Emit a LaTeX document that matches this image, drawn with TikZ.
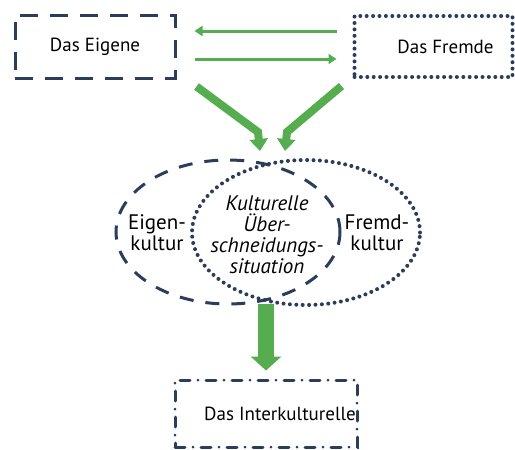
\documentclass[tikz,border=0pt]{standalone}
\usepackage{fontspec}
\setmainfont{PT Sans}
\usepackage{xcolor}
\usetikzlibrary{shapes.geometric,arrows.meta}
\definecolor{navy}{HTML}{2B3D5B}
\definecolor{leaf}{HTML}{55AD4F}

\begin{document}
\begin{tikzpicture}[x=0.5pt,y=-0.5pt,
    font=\fontsize{9.5}{10.5}\selectfont,
    box/.style={shape=rectangle, draw=navy, line width=1.5pt, inner sep=0pt},
    dashline/.style={dash pattern=on 9pt off 6pt},
    dotline/.style={line width=2pt, line cap=round, dash pattern=on 0pt off 3.2pt},
    dashdotline/.style={line cap=round, dash pattern=on 5pt off 4pt on 0pt off 4pt},
    oval/.style={shape=ellipse, draw=navy, line width=1.5pt, inner sep=0pt},
    ovaltext/.style={align=center, font=\fontsize{10.5}{10.5}\selectfont},
    thinarr/.style={draw=leaf, line width=1.5pt, -{Triangle[width=5pt,length=4pt]}},
    fat/.style={draw=leaf, line width=4pt, -{Triangle[width=9pt,length=6pt]}}]
    \useasboundingbox (0,0) rectangle (515,450);

    \node[box, dashline, minimum width=80pt, minimum height=31.5pt] (eigene) at (95,46.5) {Das Eigene};
    \node[box, dotline, minimum width=79pt, minimum height=30.5pt] (fremde) at (433.5,46.5) {\hspace*{12pt}Das Fremde};
    \node[box, dashdotline, minimum width=91pt, minimum height=33.5pt] (inter) at (266,413.5) {\hspace*{14pt}Das Interkulturelle};

    \node[oval, dashline, dash pattern=on 7pt off 6pt, minimum width=112pt, minimum height=72pt] (eigenk) at (228,232) {};
    \node[oval, dotline, minimum width=114pt, minimum height=72.5pt] (fremdk) at (306,232.5) {};

    \node[ovaltext] (eigent) at (157,233) {Eigen-\\kultur};
    \node[ovaltext] (fremdt) at (377,233) {Fremd-\\kultur};
    \node[ovaltext, font=\fontsize{10.5}{10.5}\selectfont\itshape] (schnitt) at (267,235) {Kulturelle\\Über-\\schneidungs-\\situation};

    \draw[thinarr] ([yshift=7.75pt]fremde.west) ++(-8pt,0) -- ([yshift=7.75pt,xshift=9pt]eigene.east);
    \draw[thinarr] ([yshift=-6.25pt,xshift=9pt]eigene.east) -- ([yshift=-6.25pt,xshift=-8pt]fremde.west);

    \coordinate (inL) at (260,151);
    \coordinate (inR) at (285,151);
    \draw[fat] ([shift={(20,7)}]eigene.south east) -- (258,132) -- (inL);
    \draw[fat] ([shift={(-11,7)}]fremde.south west) -- (287,132) -- (inR);
    \draw[fat, line width=8pt, -{Triangle[width=15pt,length=7pt]}] (266,304) -- ([yshift=4pt]inter.north);
\end{tikzpicture}
\end{document}
